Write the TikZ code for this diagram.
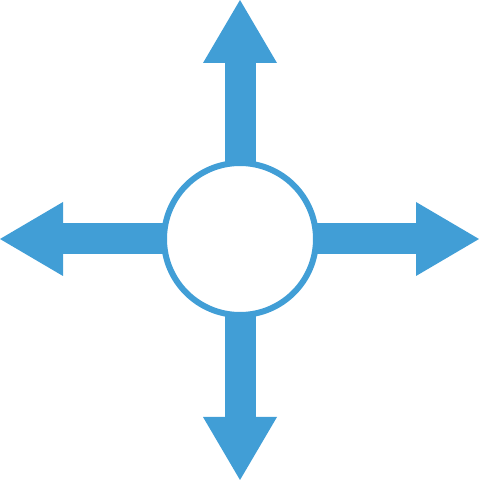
\documentclass[tikz,border=0pt]{standalone}
\usetikzlibrary{arrows.meta}
\definecolor{hubblue}{RGB}{65,158,214}
\tikzset{
  spoke/.style = {hubblue, line width=31pt, -{Triangle[length=63pt, width=74pt, line width=0pt]}},
  hub/.style   = {draw=hubblue, fill=white, circle, line width=6pt, minimum size=152pt, inner sep=0pt}
}
\begin{document}
\begin{tikzpicture}[x=1pt, y=1pt]
		\useasboundingbox (0, 0) rectangle (479, 480);
		\coordinate (mid)   at (240, 241);
		\coordinate (north) at (240, 480);
		\coordinate (south) at (240, 0);
		\coordinate (west)  at (0,   241);
		\coordinate (east)  at (479, 241);

		\draw[spoke] (mid) -- (north);
		\draw[spoke] (mid) -- (south);
		\draw[spoke] (mid) -- (west);
		\draw[spoke] (mid) -- (east);

		\node[hub] (HUB) at (mid) {};
	\end{tikzpicture}
\end{document}
